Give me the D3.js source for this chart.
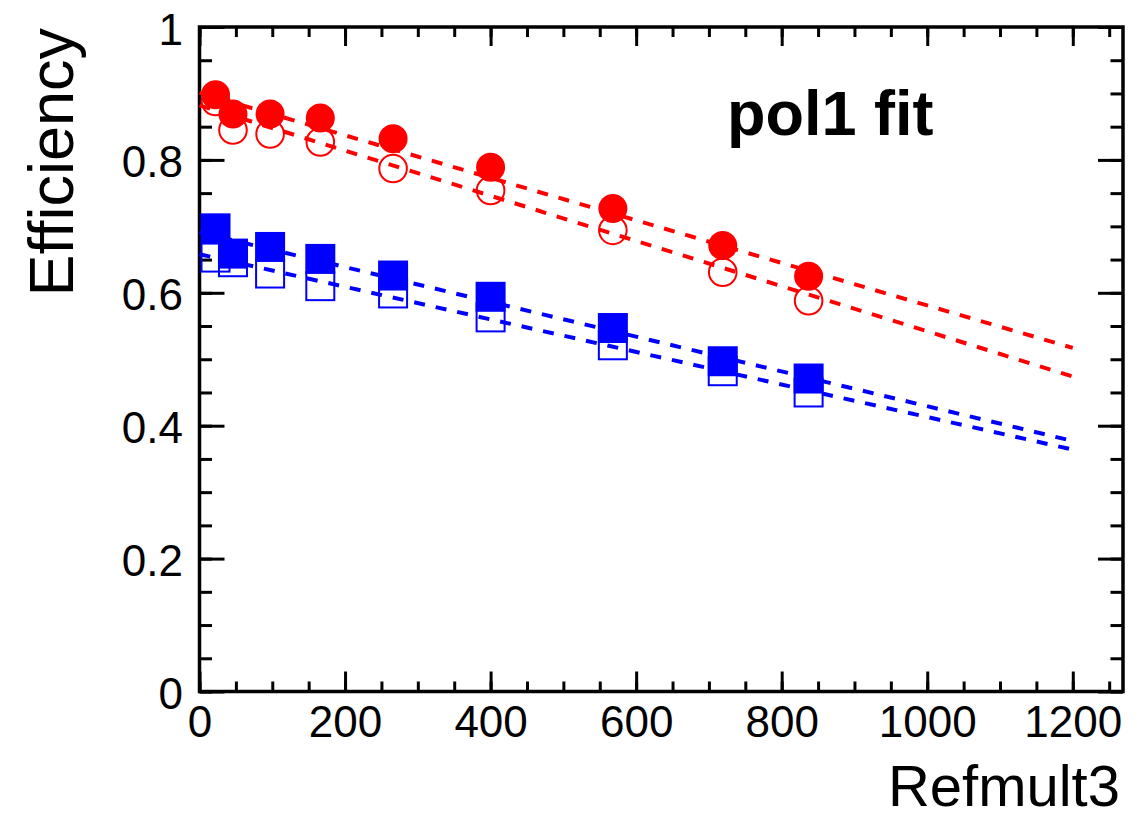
<!DOCTYPE html>
<html>
<head>
<meta charset="utf-8">
<script src="https://cdn.jsdelivr.net/npm/d3@7"></script>
<style>
  html, body { margin: 0; padding: 0; background: #fff; }
  svg { display: block; font-family: "Liberation Sans", Arial, Helvetica, sans-serif; }
</style>
</head>
<body>
<svg id="chart" width="1140" height="820"></svg>
<script>
// ---- data ----
const refmult = [22, 46, 97, 166, 266, 400, 568, 719, 837];
const effRedFilled  = [0.898, 0.869, 0.869, 0.863, 0.832, 0.789, 0.727, 0.671, 0.625];
const effRedOpen    = [0.888, 0.845, 0.839, 0.827, 0.787, 0.754, 0.694, 0.631, 0.588];
const effBlueFilled = [0.697, 0.659, 0.669, 0.651, 0.626, 0.594, 0.547, 0.497, 0.471];
const effBlueOpen   = [0.653, 0.646, 0.629, 0.610, 0.599, 0.563, 0.521, 0.482, 0.450];

// pol1 fit lines, evaluated at the ends of the fit range
const fitX          = [0, 1200];
const fitRedFilled  = [0.901, 0.517];
const fitRedOpen    = [0.882, 0.474];
const fitBlueFilled = [0.691, 0.377];
const fitBlueOpen   = [0.658, 0.364];

const xMajorTicks = [0, 200, 400, 600, 800, 1000, 1200];
const xMinorTicks = d3.range(0, 1270, 50);
const yMajorTicks = [0, 0.2, 0.4, 0.6, 0.8, 1];
const yTickLabels = ["0", "0.2", "0.4", "0.6", "0.8", "1"];
const yMinorTicks = d3.range(0, 1.0001, 0.05);

const xTitle = "Refmult3";
const yTitle = "Efficiency";
const note = "pol1 fit";

// ---- layout ----
const L = 199.5, R = 1123, T = 27, B = 691.5;
const RED = "#ff0000", BLUE = "#0000ff";

const svg = d3.select("#chart");
const x = d3.scaleLinear().domain([0, 1269]).range([L, R]);
const y = d3.scaleLinear().domain([0, 1]).range([B, T]);

const fontSize = 44;

function styleAxis(g) {
  g.select(".domain").remove();
  g.selectAll(".tick line").attr("stroke", "#000").attr("stroke-width", 3);
}
// minor ticks
svg.append("g").attr("transform", `translate(0,${B})`)
  .call(d3.axisBottom(x).tickValues(xMinorTicks).tickSize(-10).tickSizeOuter(0).tickFormat(""))
  .call(styleAxis);
svg.append("g").attr("transform", `translate(0,${T})`)
  .call(d3.axisTop(x).tickValues(xMinorTicks).tickSize(-10).tickSizeOuter(0).tickFormat(""))
  .call(styleAxis);
svg.append("g").attr("transform", `translate(${L},0)`)
  .call(d3.axisLeft(y).tickValues(yMinorTicks).tickSize(-12.5).tickSizeOuter(0).tickFormat(""))
  .call(styleAxis);
svg.append("g").attr("transform", `translate(${R},0)`)
  .call(d3.axisRight(y).tickValues(yMinorTicks).tickSize(-12.5).tickSizeOuter(0).tickFormat(""))
  .call(styleAxis);

// major ticks
const xAxisG = svg.append("g").attr("transform", `translate(0,${B})`)
  .call(d3.axisBottom(x).tickValues(xMajorTicks).tickSize(-20).tickSizeOuter(0).tickFormat(d3.format("d")))
  .call(styleAxis);
xAxisG.selectAll(".tick text")
  .attr("y", 0).attr("dy", null).attr("transform", "translate(0,45.5)")
  .attr("fill", "#000").style("font-size", fontSize + "px")
  .style("font-family", '"Liberation Sans", Arial, Helvetica, sans-serif');

svg.append("g").attr("transform", `translate(0,${T})`)
  .call(d3.axisTop(x).tickValues(xMajorTicks).tickSize(-19).tickSizeOuter(0).tickFormat(""))
  .call(styleAxis);

const yAxisG = svg.append("g").attr("transform", `translate(${L},0)`)
  .call(d3.axisLeft(y).tickValues(yMajorTicks).tickSize(-25).tickSizeOuter(0)
    .tickFormat((d, i) => yTickLabels[i]))
  .call(styleAxis);
yAxisG.selectAll(".tick text")
  .attr("x", -16.5).attr("dy", null).attr("y", 17)
  .attr("fill", "#000").style("font-size", fontSize + "px")
  .style("font-family", '"Liberation Sans", Arial, Helvetica, sans-serif');

svg.append("g").attr("transform", `translate(${R},0)`)
  .call(d3.axisRight(y).tickValues(yMajorTicks).tickSize(-25).tickSizeOuter(0).tickFormat(""))
  .call(styleAxis);

// frame
svg.append("rect")
  .attr("x", L).attr("y", T).attr("width", R - L).attr("height", B - T)
  .attr("fill", "none").attr("stroke", "#000").attr("stroke-width", 3.5);

const line = d3.line().x(d => x(d[0])).y(d => y(d[1]));
const fits = [
  { vals: fitRedFilled, color: RED },
  { vals: fitRedOpen, color: RED },
  { vals: fitBlueFilled, color: BLUE },
  { vals: fitBlueOpen, color: BLUE }
];
const plot = svg.append("g");

// markers
const pts = arr => refmult.map((r, i) => [r, arr[i]]);
const sq = 30;

plot.selectAll(".bf").data(pts(effBlueFilled)).enter().append("rect")
  .attr("x", d => x(d[0]) - sq / 2).attr("y", d => y(d[1]) - sq / 2)
  .attr("width", sq).attr("height", sq).attr("fill", BLUE);
plot.selectAll(".bo").data(pts(effBlueOpen)).enter().append("rect")
  .attr("x", d => x(d[0]) - (sq - 2) / 2).attr("y", d => y(d[1]) - (sq - 2) / 2)
  .attr("width", sq - 2).attr("height", sq - 2)
  .attr("fill", "none").attr("stroke", BLUE).attr("stroke-width", 2);

plot.selectAll(".rf").data(pts(effRedFilled)).enter().append("circle")
  .attr("cx", d => x(d[0])).attr("cy", d => y(d[1])).attr("r", 14.5).attr("fill", RED);
plot.selectAll(".ro").data(pts(effRedOpen)).enter().append("circle")
  .attr("cx", d => x(d[0])).attr("cy", d => y(d[1])).attr("r", 13.8)
  .attr("fill", "none").attr("stroke", RED).attr("stroke-width", 2);

// fit lines
fits.forEach(f => {
  plot.append("path")
    .datum(fitX.map((v, i) => [v, f.vals[i]]))
    .attr("d", line)
    .attr("fill", "none").attr("stroke", f.color)
    .attr("stroke-width", 4).attr("stroke-dasharray", "11,11");
});

// titles
svg.append("text")
  .attr("x", 1120).attr("y", 806).attr("text-anchor", "end")
  .style("font-size", "58px").attr("fill", "#000").text(xTitle);

svg.append("text")
  .attr("transform", "translate(73,28) rotate(-90)")
  .attr("text-anchor", "end")
  .style("font-size", "63px").attr("fill", "#000").text(yTitle);

svg.append("text")
  .attr("x", 727).attr("y", 135)
  .style("font-size", "63px").style("font-weight", "bold").attr("fill", "#000").text(note);
</script>
</body>
</html>
